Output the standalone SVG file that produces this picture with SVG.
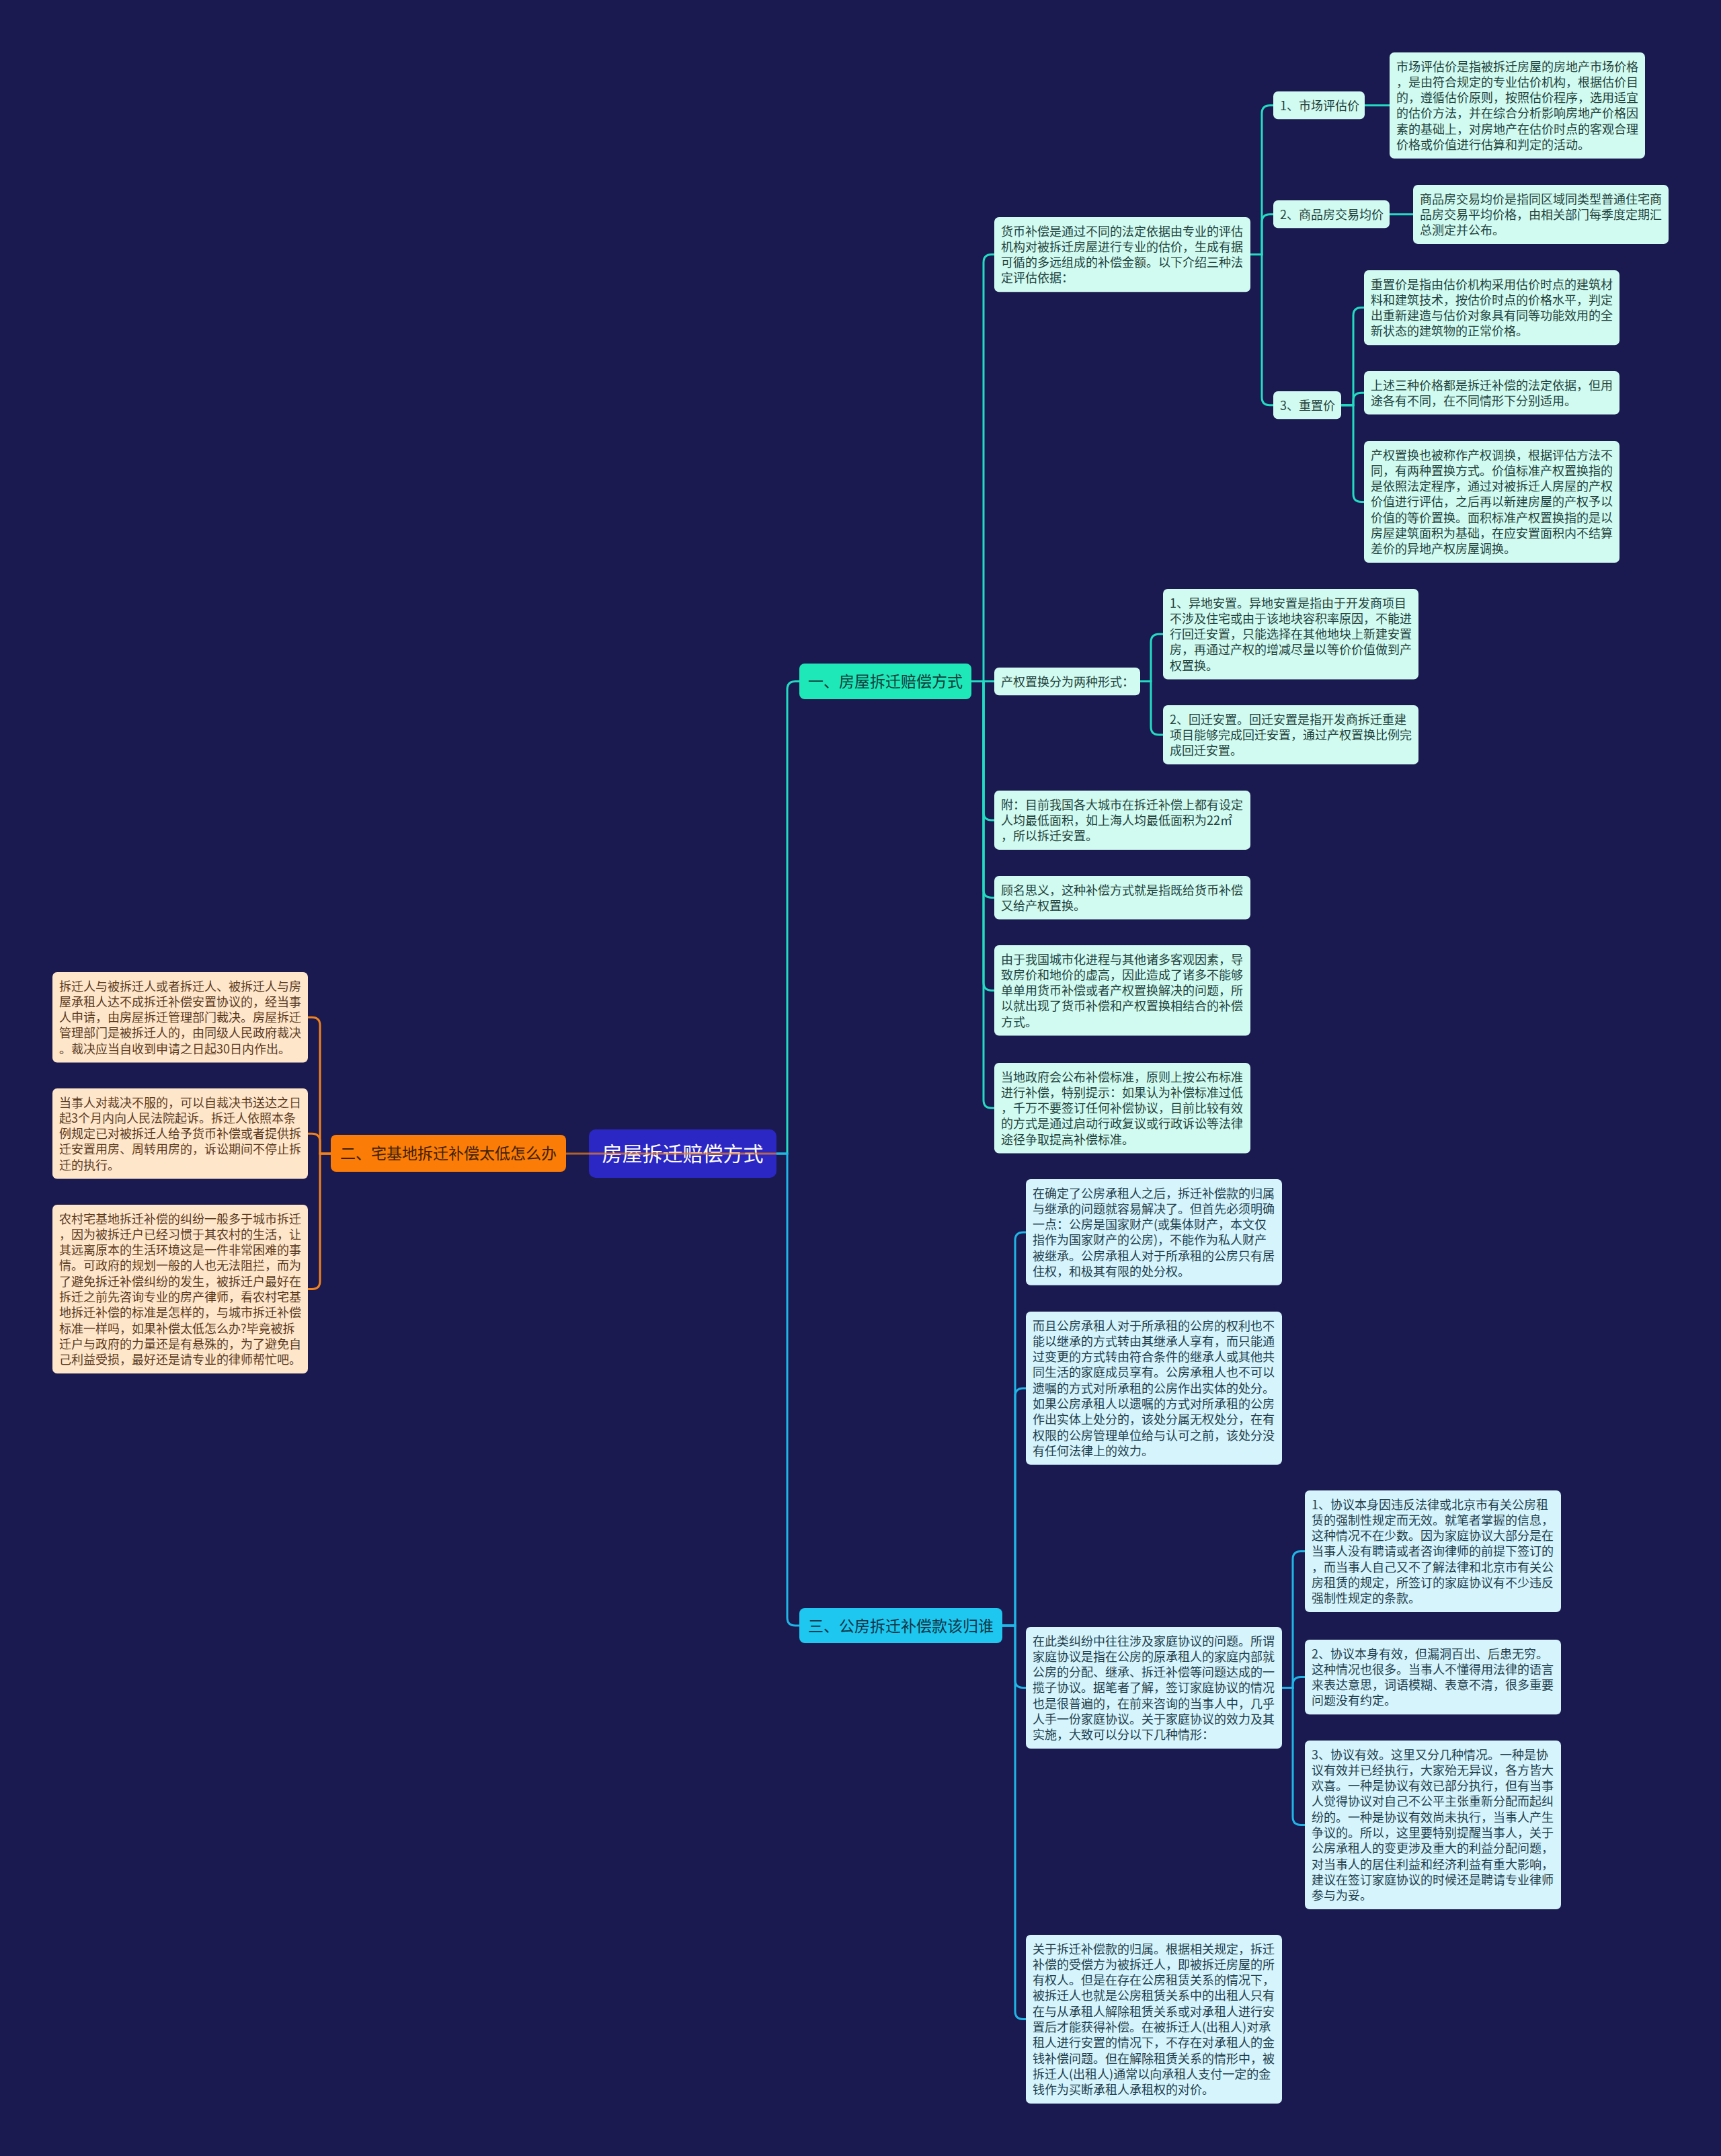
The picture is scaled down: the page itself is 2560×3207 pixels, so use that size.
<svg xmlns="http://www.w3.org/2000/svg" width="2560" height="3207" viewBox="0 0 2560 3207">
<style>
text{font-family:"Noto Sans CJK SC","Noto Sans",sans-serif;}
.d{font-size:18px;}
.m{fill:#d1fbf0;}
.c{fill:#d5f4fc;}
.p{fill:#fee6cb;}
.tm{fill:#24433e;}
.tc{fill:#23404d;}
.tp{fill:#5b3b1e;}
.lt{fill:none;stroke:#22dcc2;stroke-width:3;}
.lb{fill:none;stroke:#1fb6e6;stroke-width:3;}
.lo{fill:none;stroke:#f0821e;stroke-width:3;}
</style>
<rect width="2560" height="3207" fill="#1b1a50"/>

<g id="connectors">
<path class="lt" d="M1155 1716 H1171 V1025.5 Q1171 1013.5 1183 1013.5 H1189"/>
<path class="lb" d="M1155 1716 H1171 V2406 Q1171 2418 1183 2418 H1189"/>
<path class="lo" d="M492 1716 H476 V1525.3 Q476 1513.3 464 1513.3 H458"/>
<path class="lo" d="M492 1716 H476 V1698.3 Q476 1686.3 464 1686.3 H458"/>
<path class="lo" d="M492 1716 H476 V1905.5 Q476 1917.5 464 1917.5 H458"/>
<path class="lt" d="M1445 1013.6 H1463 V390.6 Q1463 378.6 1475 378.6 H1479"/>
<path class="lt" d="M1445 1013.6 H1479"/>
<path class="lt" d="M1445 1013.6 H1463 V1208 Q1463 1220 1475 1220 H1479"/>
<path class="lt" d="M1445 1013.6 H1463 V1323.3 Q1463 1335.3 1475 1335.3 H1479"/>
<path class="lt" d="M1445 1013.6 H1463 V1461.3 Q1463 1473.3 1475 1473.3 H1479"/>
<path class="lt" d="M1445 1013.6 H1463 V1636.3 Q1463 1648.3 1475 1648.3 H1479"/>
<path class="lt" d="M1860 378.6 H1877 V168.7 Q1877 156.7 1889 156.7 H1894"/>
<path class="lt" d="M1860 378.6 H1877 V330.7 Q1877 318.7 1889 318.7 H1894"/>
<path class="lt" d="M1860 378.6 H1877 V590.7 Q1877 602.7 1889 602.7 H1894"/>
<path class="lt" d="M2030 156.8 H2067"/>
<path class="lt" d="M2067 318.8 H2102"/>
<path class="lt" d="M1995 602.7 H2013 V469.6 Q2013 457.6 2025 457.6 H2029"/>
<path class="lt" d="M1995 602.7 H2013 V596.3 Q2013 584.3 2025 584.3 H2029"/>
<path class="lt" d="M1995 602.7 H2013 V734.6 Q2013 746.6 2025 746.6 H2029"/>
<path class="lt" d="M1696 1013.6 H1712 V955.3 Q1712 943.3 1724 943.3 H1730"/>
<path class="lt" d="M1696 1013.6 H1712 V1081 Q1712 1093 1724 1093 H1730"/>
<path class="lb" d="M1491 2418 H1510 V1844.9 Q1510 1832.9 1522 1832.9 H1526"/>
<path class="lb" d="M1491 2418 H1510 V2076.9 Q1510 2064.9 1522 2064.9 H1526"/>
<path class="lb" d="M1491 2418 H1510 V2498.6 Q1510 2510.6 1522 2510.6 H1526"/>
<path class="lb" d="M1491 2418 H1510 V2991.5 Q1510 3003.5 1522 3003.5 H1526"/>
<path class="lb" d="M1907 2510.6 H1923 V2319.6 Q1923 2307.6 1935 2307.6 H1941"/>
<path class="lb" d="M1907 2510.6 H1923 V2506.6 Q1923 2494.6 1935 2494.6 H1941"/>
<path class="lb" d="M1907 2510.6 H1923 V2702.5 Q1923 2714.5 1935 2714.5 H1941"/>
</g>

<g id="root">
<rect x="876" y="1680" width="279" height="72" rx="10" fill="#2b27c4"/>
<text x="1015.5" y="1727.4" font-size="30" fill="#ffffff" text-anchor="middle">房屋拆迁赔偿方式</text>
</g>
<path class="lo" d="M1155 1716 H842" stroke-opacity="0.7"/>

<g id="b2">
<rect x="492" y="1688" width="350" height="55" rx="8" fill="#fb7c06"/>
<text x="667" y="1724.2" font-size="23" fill="#3d2106" text-anchor="middle">二、宅基地拆迁补偿太低怎么办</text>
</g>
<g id="b1">
<rect x="1189" y="987" width="256" height="53" rx="8" fill="#1ee8b8"/>
<text x="1317" y="1022.2" font-size="23" fill="#0f3d3a" text-anchor="middle">一、房屋拆迁赔偿方式</text>
</g>
<g id="b3">
<rect x="1189" y="2392" width="302" height="52" rx="8" fill="#1dc7ef"/>
<text x="1340" y="2426.7" font-size="23" fill="#0f3446" text-anchor="middle">三、公房拆迁补偿款该归谁</text>
</g>

<g id="L1">
<rect class="p" x="78" y="1446" width="380" height="134.5" rx="7"/>
<text class="d tp" x="88" y="1473.5"><tspan x="88">拆迁人与被拆迁人或者拆迁人、被拆迁人与房</tspan><tspan x="88" dy="23.3">屋承租人达不成拆迁补偿安置协议的，经当事</tspan><tspan x="88" dy="23.3">人申请，由房屋拆迁管理部门裁决。房屋拆迁</tspan><tspan x="88" dy="23.3">管理部门是被拆迁人的，由同级人民政府裁决</tspan><tspan x="88" dy="23.3">。裁决应当自收到申请之日起30日内作出。</tspan></text>
</g>
<g id="L2">
<rect class="p" x="78" y="1619" width="380" height="134.5" rx="7"/>
<text class="d tp" x="88" y="1646.5"><tspan x="88">当事人对裁决不服的，可以自裁决书送达之日</tspan><tspan x="88" dy="23.3">起3个月内向人民法院起诉。拆迁人依照本条</tspan><tspan x="88" dy="23.3">例规定已对被拆迁人给予货币补偿或者提供拆</tspan><tspan x="88" dy="23.3">迁安置用房、周转用房的，诉讼期间不停止拆</tspan><tspan x="88" dy="23.3">迁的执行。</tspan></text>
</g>
<g id="L3">
<rect class="p" x="78" y="1792" width="380" height="251" rx="7"/>
<text class="d tp" x="88" y="1819.5"><tspan x="88">农村宅基地拆迁补偿的纠纷一般多于城市拆迁</tspan><tspan x="88" dy="23.3">，因为被拆迁户已经习惯于其农村的生活，让</tspan><tspan x="88" dy="23.3">其远离原本的生活环境这是一件非常困难的事</tspan><tspan x="88" dy="23.3">情。可政府的规划一般的人也无法阻拦，而为</tspan><tspan x="88" dy="23.3">了避免拆迁补偿纠纷的发生，被拆迁户最好在</tspan><tspan x="88" dy="23.3">拆迁之前先咨询专业的房产律师，看农村宅基</tspan><tspan x="88" dy="23.3">地拆迁补偿的标准是怎样的，与城市拆迁补偿</tspan><tspan x="88" dy="23.3">标准一样吗，如果补偿太低怎么办?毕竟被拆</tspan><tspan x="88" dy="23.3">迁户与政府的力量还是有悬殊的，为了避免自</tspan><tspan x="88" dy="23.3">己利益受损，最好还是请专业的律师帮忙吧。</tspan></text>
</g>

<g id="C1">
<rect class="m" x="1479" y="323" width="381" height="111.2" rx="7"/>
<text class="d tm" x="1489" y="350.5"><tspan x="1489">货币补偿是通过不同的法定依据由专业的评估</tspan><tspan x="1489" dy="23.3">机构对被拆迁房屋进行专业的估价，生成有据</tspan><tspan x="1489" dy="23.3">可循的多远组成的补偿金额。以下介绍三种法</tspan><tspan x="1489" dy="23.3">定评估依据：</tspan></text>
</g>
<g id="C1a">
<rect class="m" x="1894" y="136" width="136" height="41.3" rx="7"/>
<text class="d tm" x="1904" y="163.5">1、市场评估价</text>
</g>
<g id="C1a1">
<rect class="m" x="2067" y="78" width="380" height="157.8" rx="7"/>
<text class="d tm" x="2077" y="105.5"><tspan x="2077">市场评估价是指被拆迁房屋的房地产市场价格</tspan><tspan x="2077" dy="23.3">，是由符合规定的专业估价机构，根据估价目</tspan><tspan x="2077" dy="23.3">的，遵循估价原则，按照估价程序，选用适宜</tspan><tspan x="2077" dy="23.3">的估价方法，并在综合分析影响房地产价格因</tspan><tspan x="2077" dy="23.3">素的基础上，对房地产在估价时点的客观合理</tspan><tspan x="2077" dy="23.3">价格或价值进行估算和判定的活动。</tspan></text>
</g>
<g id="C1b">
<rect class="m" x="1894" y="298" width="173" height="41.3" rx="7"/>
<text class="d tm" x="1904" y="325.5">2、商品房交易均价</text>
</g>
<g id="C1b1">
<rect class="m" x="2102" y="275" width="380" height="87.9" rx="7"/>
<text class="d tm" x="2112" y="302.5"><tspan x="2112">商品房交易均价是指同区域同类型普通住宅商</tspan><tspan x="2112" dy="23.3">品房交易平均价格，由相关部门每季度定期汇</tspan><tspan x="2112" dy="23.3">总测定并公布。</tspan></text>
</g>
<g id="C1c">
<rect class="m" x="1894" y="582" width="101" height="41.3" rx="7"/>
<text class="d tm" x="1904" y="609.5">3、重置价</text>
</g>
<g id="R1">
<rect class="m" x="2029" y="402" width="380" height="111.2" rx="7"/>
<text class="d tm" x="2039" y="429.5"><tspan x="2039">重置价是指由估价机构采用估价时点的建筑材</tspan><tspan x="2039" dy="23.3">料和建筑技术，按估价时点的价格水平，判定</tspan><tspan x="2039" dy="23.3">出重新建造与估价对象具有同等功能效用的全</tspan><tspan x="2039" dy="23.3">新状态的建筑物的正常价格。</tspan></text>
</g>
<g id="R2">
<rect class="m" x="2029" y="552" width="380" height="64.6" rx="7"/>
<text class="d tm" x="2039" y="579.5"><tspan x="2039">上述三种价格都是拆迁补偿的法定依据，但用</tspan><tspan x="2039" dy="23.3">途各有不同，在不同情形下分别适用。</tspan></text>
</g>
<g id="R3">
<rect class="m" x="2029" y="656" width="380" height="181.1" rx="7"/>
<text class="d tm" x="2039" y="683.5"><tspan x="2039">产权置换也被称作产权调换，根据评估方法不</tspan><tspan x="2039" dy="23.3">同，有两种置换方式。价值标准产权置换指的</tspan><tspan x="2039" dy="23.3">是依照法定程序，通过对被拆迁人房屋的产权</tspan><tspan x="2039" dy="23.3">价值进行评估，之后再以新建房屋的产权予以</tspan><tspan x="2039" dy="23.3">价值的等价置换。面积标准产权置换指的是以</tspan><tspan x="2039" dy="23.3">房屋建筑面积为基础，在应安置面积内不结算</tspan><tspan x="2039" dy="23.3">差价的异地产权房屋调换。</tspan></text>
</g>

<g id="C2">
<rect class="m" x="1479" y="993" width="217" height="41.3" rx="7"/>
<text class="d tm" x="1489" y="1020.5">产权置换分为两种形式：</text>
</g>
<g id="C2a">
<rect class="m" x="1730" y="876" width="380" height="134.5" rx="7"/>
<text class="d tm" x="1740" y="903.5"><tspan x="1740">1、异地安置。异地安置是指由于开发商项目</tspan><tspan x="1740" dy="23.3">不涉及住宅或由于该地块容积率原因，不能进</tspan><tspan x="1740" dy="23.3">行回迁安置，只能选择在其他地块上新建安置</tspan><tspan x="1740" dy="23.3">房，再通过产权的增减尽量以等价价值做到产</tspan><tspan x="1740" dy="23.3">权置换。</tspan></text>
</g>
<g id="C2b">
<rect class="m" x="1730" y="1049" width="380" height="87.9" rx="7"/>
<text class="d tm" x="1740" y="1076.5"><tspan x="1740">2、回迁安置。回迁安置是指开发商拆迁重建</tspan><tspan x="1740" dy="23.3">项目能够完成回迁安置，通过产权置换比例完</tspan><tspan x="1740" dy="23.3">成回迁安置。</tspan></text>
</g>
<g id="C3">
<rect class="m" x="1479" y="1176" width="381" height="87.9" rx="7"/>
<text class="d tm" x="1489" y="1203.5"><tspan x="1489">附：目前我国各大城市在拆迁补偿上都有设定</tspan><tspan x="1489" dy="23.3">人均最低面积，如上海人均最低面积为22㎡</tspan><tspan x="1489" dy="23.3">，所以拆迁安置。</tspan></text>
</g>
<g id="C4">
<rect class="m" x="1479" y="1303" width="381" height="64.6" rx="7"/>
<text class="d tm" x="1489" y="1330.5"><tspan x="1489">顾名思义，这种补偿方式就是指既给货币补偿</tspan><tspan x="1489" dy="23.3">又给产权置换。</tspan></text>
</g>
<g id="C5">
<rect class="m" x="1479" y="1406" width="381" height="134.5" rx="7"/>
<text class="d tm" x="1489" y="1433.5"><tspan x="1489">由于我国城市化进程与其他诸多客观因素，导</tspan><tspan x="1489" dy="23.3">致房价和地价的虚高，因此造成了诸多不能够</tspan><tspan x="1489" dy="23.3">单单用货币补偿或者产权置换解决的问题，所</tspan><tspan x="1489" dy="23.3">以就出现了货币补偿和产权置换相结合的补偿</tspan><tspan x="1489" dy="23.3">方式。</tspan></text>
</g>
<g id="C6">
<rect class="m" x="1479" y="1581" width="381" height="134.5" rx="7"/>
<text class="d tm" x="1489" y="1608.5"><tspan x="1489">当地政府会公布补偿标准，原则上按公布标准</tspan><tspan x="1489" dy="23.3">进行补偿，特别提示：如果认为补偿标准过低</tspan><tspan x="1489" dy="23.3">，千万不要签订任何补偿协议，目前比较有效</tspan><tspan x="1489" dy="23.3">的方式是通过启动行政复议或行政诉讼等法律</tspan><tspan x="1489" dy="23.3">途径争取提高补偿标准。</tspan></text>
</g>

<g id="D1">
<rect class="c" x="1526" y="1754" width="381" height="157.8" rx="7"/>
<text class="d tc" x="1536" y="1781.5"><tspan x="1536">在确定了公房承租人之后，拆迁补偿款的归属</tspan><tspan x="1536" dy="23.3">与继承的问题就容易解决了。但首先必须明确</tspan><tspan x="1536" dy="23.3">一点：公房是国家财产(或集体财产，本文仅</tspan><tspan x="1536" dy="23.3">指作为国家财产的公房)，不能作为私人财产</tspan><tspan x="1536" dy="23.3">被继承。公房承租人对于所承租的公房只有居</tspan><tspan x="1536" dy="23.3">住权，和极其有限的处分权。</tspan></text>
</g>
<g id="D2">
<rect class="c" x="1526" y="1951" width="381" height="227.7" rx="7"/>
<text class="d tc" x="1536" y="1978.5"><tspan x="1536">而且公房承租人对于所承租的公房的权利也不</tspan><tspan x="1536" dy="23.3">能以继承的方式转由其继承人享有，而只能通</tspan><tspan x="1536" dy="23.3">过变更的方式转由符合条件的继承人或其他共</tspan><tspan x="1536" dy="23.3">同生活的家庭成员享有。公房承租人也不可以</tspan><tspan x="1536" dy="23.3">遗嘱的方式对所承租的公房作出实体的处分。</tspan><tspan x="1536" dy="23.3">如果公房承租人以遗嘱的方式对所承租的公房</tspan><tspan x="1536" dy="23.3">作出实体上处分的，该处分属无权处分，在有</tspan><tspan x="1536" dy="23.3">权限的公房管理单位给与认可之前，该处分没</tspan><tspan x="1536" dy="23.3">有任何法律上的效力。</tspan></text>
</g>
<g id="D3">
<rect class="c" x="1526" y="2420" width="381" height="181.1" rx="7"/>
<text class="d tc" x="1536" y="2447.5"><tspan x="1536">在此类纠纷中往往涉及家庭协议的问题。所谓</tspan><tspan x="1536" dy="23.3">家庭协议是指在公房的原承租人的家庭内部就</tspan><tspan x="1536" dy="23.3">公房的分配、继承、拆迁补偿等问题达成的一</tspan><tspan x="1536" dy="23.3">揽子协议。据笔者了解，签订家庭协议的情况</tspan><tspan x="1536" dy="23.3">也是很普遍的，在前来咨询的当事人中，几乎</tspan><tspan x="1536" dy="23.3">人手一份家庭协议。关于家庭协议的效力及其</tspan><tspan x="1536" dy="23.3">实施，大致可以分以下几种情形：</tspan></text>
</g>
<g id="E1">
<rect class="c" x="1941" y="2217" width="381" height="181.1" rx="7"/>
<text class="d tc" x="1951" y="2244.5"><tspan x="1951">1、协议本身因违反法律或北京市有关公房租</tspan><tspan x="1951" dy="23.3">赁的强制性规定而无效。就笔者掌握的信息，</tspan><tspan x="1951" dy="23.3">这种情况不在少数。因为家庭协议大部分是在</tspan><tspan x="1951" dy="23.3">当事人没有聘请或者咨询律师的前提下签订的</tspan><tspan x="1951" dy="23.3">，而当事人自己又不了解法律和北京市有关公</tspan><tspan x="1951" dy="23.3">房租赁的规定，所签订的家庭协议有不少违反</tspan><tspan x="1951" dy="23.3">强制性规定的条款。</tspan></text>
</g>
<g id="E2">
<rect class="c" x="1941" y="2439" width="381" height="111.2" rx="7"/>
<text class="d tc" x="1951" y="2466.5"><tspan x="1951">2、协议本身有效，但漏洞百出、后患无穷。</tspan><tspan x="1951" dy="23.3">这种情况也很多。当事人不懂得用法律的语言</tspan><tspan x="1951" dy="23.3">来表达意思，词语模糊、表意不清，很多重要</tspan><tspan x="1951" dy="23.3">问题没有约定。</tspan></text>
</g>
<g id="E3">
<rect class="c" x="1941" y="2589" width="381" height="251" rx="7"/>
<text class="d tc" x="1951" y="2616.5"><tspan x="1951">3、协议有效。这里又分几种情况。一种是协</tspan><tspan x="1951" dy="23.3">议有效并已经执行，大家殆无异议，各方皆大</tspan><tspan x="1951" dy="23.3">欢喜。一种是协议有效已部分执行，但有当事</tspan><tspan x="1951" dy="23.3">人觉得协议对自己不公平主张重新分配而起纠</tspan><tspan x="1951" dy="23.3">纷的。一种是协议有效尚未执行，当事人产生</tspan><tspan x="1951" dy="23.3">争议的。所以，这里要特别提醒当事人，关于</tspan><tspan x="1951" dy="23.3">公房承租人的变更涉及重大的利益分配问题，</tspan><tspan x="1951" dy="23.3">对当事人的居住利益和经济利益有重大影响，</tspan><tspan x="1951" dy="23.3">建议在签订家庭协议的时候还是聘请专业律师</tspan><tspan x="1951" dy="23.3">参与为妥。</tspan></text>
</g>
<g id="D4">
<rect class="c" x="1526" y="2878" width="381" height="251" rx="7"/>
<text class="d tc" x="1536" y="2905.5"><tspan x="1536">关于拆迁补偿款的归属。根据相关规定，拆迁</tspan><tspan x="1536" dy="23.3">补偿的受偿方为被拆迁人，即被拆迁房屋的所</tspan><tspan x="1536" dy="23.3">有权人。但是在存在公房租赁关系的情况下，</tspan><tspan x="1536" dy="23.3">被拆迁人也就是公房租赁关系中的出租人只有</tspan><tspan x="1536" dy="23.3">在与从承租人解除租赁关系或对承租人进行安</tspan><tspan x="1536" dy="23.3">置后才能获得补偿。在被拆迁人(出租人)对承</tspan><tspan x="1536" dy="23.3">租人进行安置的情况下，不存在对承租人的金</tspan><tspan x="1536" dy="23.3">钱补偿问题。但在解除租赁关系的情形中，被</tspan><tspan x="1536" dy="23.3">拆迁人(出租人)通常以向承租人支付一定的金</tspan><tspan x="1536" dy="23.3">钱作为买断承租人承租权的对价。</tspan></text>
</g>
</svg>
